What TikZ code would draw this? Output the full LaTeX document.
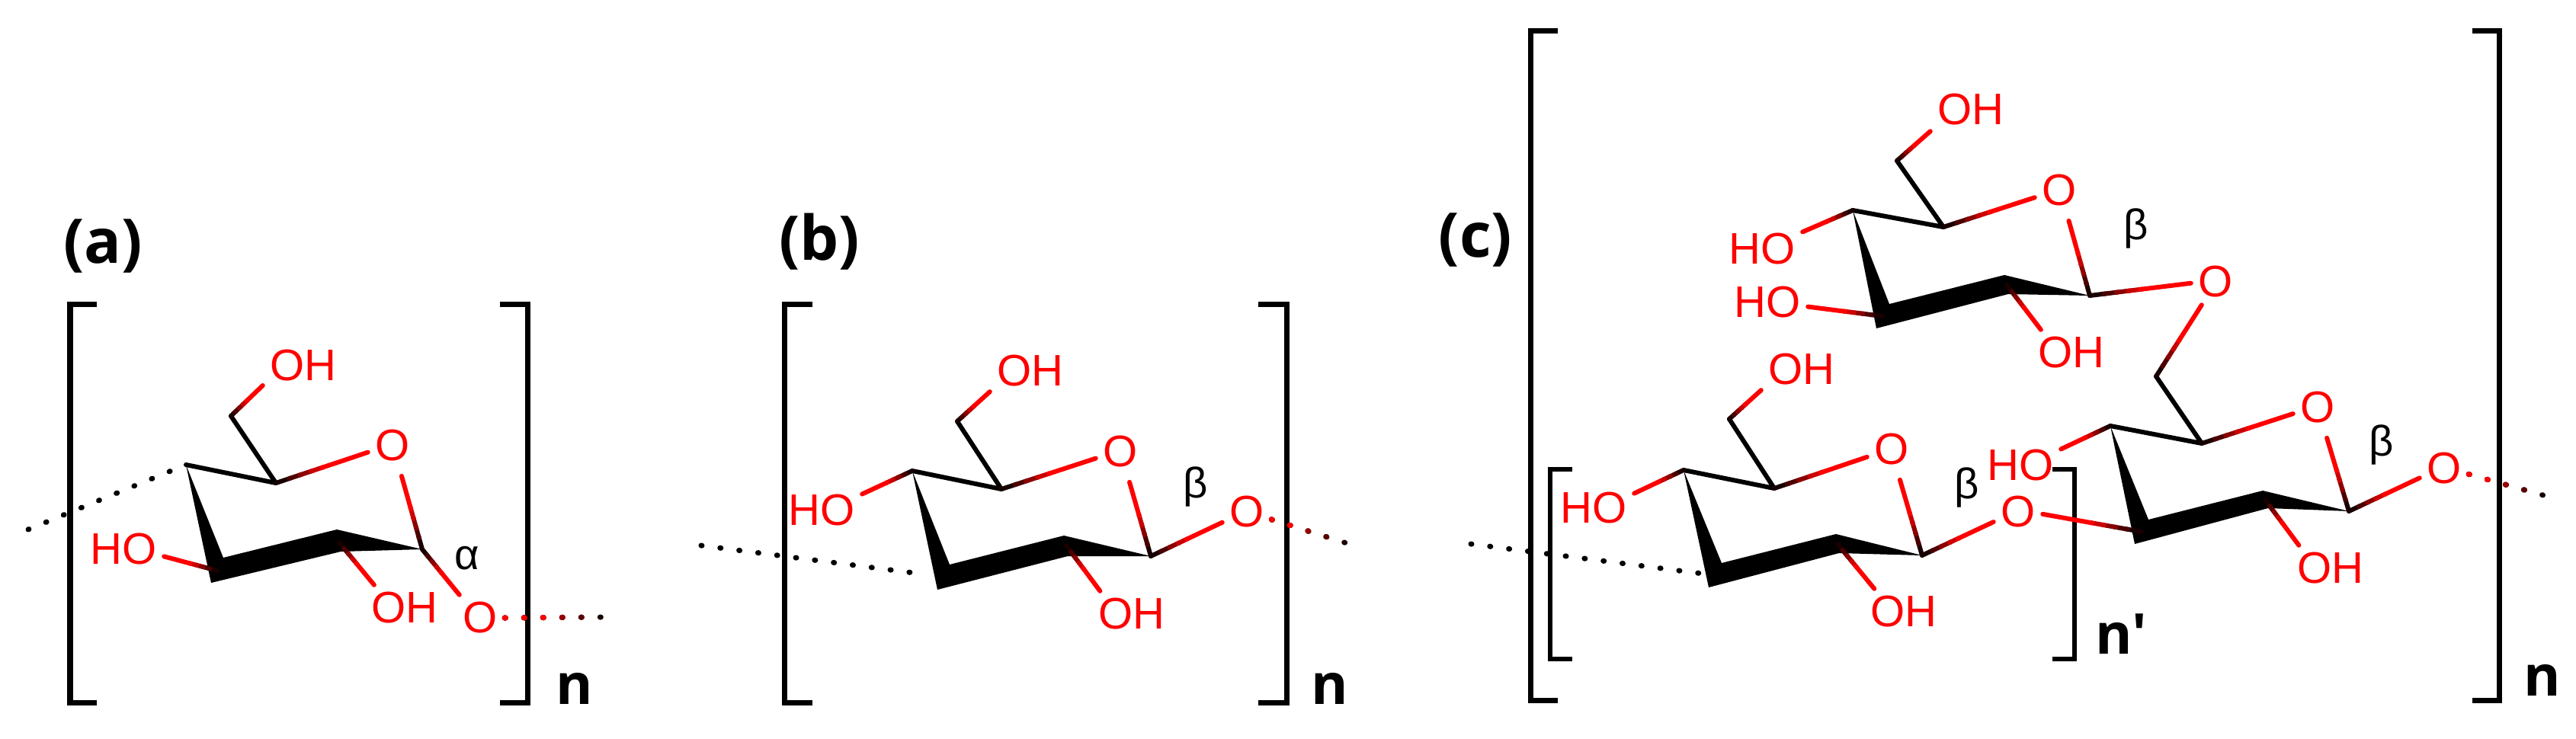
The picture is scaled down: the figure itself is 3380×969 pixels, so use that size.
\documentclass[tikz,border=0pt]{standalone}
\usepackage{fontspec}
\usepackage{tikz}
\usetikzlibrary{calc}
\setmainfont{Liberation Sans}
\newfontfamily\panelfont{Open Sans}

% bond that goes from black at the carbon to red at the oxygen
\newcommand{\hbond}[3][0pt]{%
	\foreach \p/\q/\tone in {0/.16/10,.14/.28/30,.26/.4/55,.38/.52/80}{
		\draw[bond,red!\tone!black] ($(#2)!\p!(#3)$) -- ($(#2)!\q!(#3)$);
	}
	\draw[bond,red,shorten >=#1] ($(#2)!.5!(#3)$) -- (#3);
}
% dots that start red and end black
\newcommand{\reddots}[2]{%
	\foreach \f/\tone in {1/10,.8/35,.6/60,.42/100}{
		\draw[dots,red!\tone!black] (#1) -- ($(#1)!\f!(#2)$);
	}
}
% wedge of the ring and the two plain bonds at the top
\newcommand{\ringbody}[1]{%
	\fill (#1C4) -- (#1C3t) -- (#1C2t) -- (#1C1) -- (#1C2b) -- (#1C3b) -- cycle;
	\draw[bond] (#1C4) -- (#1C5) -- (#1C6);
}

\begin{document}
\begin{tikzpicture}[x=.01cm,y=-.01cm,
		bond/.style={line width=.06cm,line cap=round,line join=round},
		dots/.style={line width=.07cm,line cap=round,dash pattern=on .01cm off .24cm},
		bracket/.style={line width=.07cm}]
	\useasboundingbox (0,0) rectangle (3380,969);

	\begin{scope}
		\draw[bracket] (127,399) -- (92,399) -- (92,922) -- (127,922);
		\draw[bracket] (656,399) -- (692,399) -- (692,922) -- (656,922);
		\draw[bracket] (1066,399) -- (1029,399) -- (1029,922) -- (1066,922);
		\draw[bracket] (1651,399) -- (1688,399) -- (1688,922) -- (1651,922);
		\draw[bracket] (2044,40) -- (2008,40) -- (2008,919) -- (2044,919);
		\draw[bracket] (3244,40) -- (3279,40) -- (3279,919) -- (3244,919);
		\draw[bracket,line width=.055cm] (2063,616) -- (2034,616) -- (2034,865) -- (2063,865);
		\draw[bracket,line width=.055cm] (2693,616) -- (2722,616) -- (2722,865) -- (2693,865);
	\end{scope}

	\begin{scope}[every node/.style={font=\panelfont\bfseries\fontsize{23}{26}\selectfont}]
		\node (la) at (135,323) {(a)};
		\node (lb) at (1075,317) {(b)};
		\node (lc) at (1936,315) {(c)};
	\end{scope}
	\begin{scope}[every node/.style={font=\panelfont\bfseries\fontsize{21}{24}\selectfont}]
		\node (na) at (754,904) {n};
		\node (nb) at (1745,904) {n};
		\node (nc) at (3336,893) {n};
		\node (nd) at (2783,832) {n'};
	\end{scope}

	\begin{scope}[every node/.style={font=\fontsize{16}{18}\selectfont}]
		\node (aalpha) at (613,733) {α};
		\node (bbeta) at (1569,639) {β};
		\node (cbeta) at (2803,300) {β};
		\node (dbeta) at (3125,584) {β};
		\node (ebeta) at (2581,640) {β};
	\end{scope}

	\begin{scope}[every node/.style={text=red,inner sep=.09cm,font=\fontsize{16.5}{18}\selectfont}]
		\node (aOH) at (398,480) {OH};
		\node (aO) at (515,585) {O};
		\node (aOn) at (630,811) {O};
		\node (aOHb) at (531,798) {OH};
		\node (aHO) at (162,721) {HO};

		\node (bOH) at (1352,487) {OH};
		\node (bO) at (1470,593) {O};
		\node (bOn) at (1636,672) {O};
		\node (bOHb) at (1485,806) {OH};
		\node (bHO) at (1078,670) {HO};

		\node (cOH) at (2586,144) {OH};
		\node (cO) at (2702,250) {O};
		\node (cOHb) at (2718,463) {OH};
		\node (cHO) at (2312,327) {HO};
		\node (cHOb) at (2319,397) {HO};

		\node (dOc) at (2907,370) {O};
		\node (dO) at (3041,535) {O};
		\node (dOn) at (3207,615) {O};
		\node (dOHb) at (3058,746) {OH};
		\node (dHO) at (2651,611) {HO};
		\node (dOe) at (2648,672) {O};

		\node (eOH) at (2364,485) {OH};
		\node (eO) at (2482,590) {O};
		\node (eOHb) at (2498,803) {OH};
		\node (eHO) at (2091,667) {HO};
	\end{scope}

	% ring a
	\coordinate (aC1) at (554,721);
	\coordinate (aC2) at (445,712);
	\coordinate (aC2t) at (442,695);
	\coordinate (aC2b) at (447,724);
	\coordinate (aC3) at (285,749);
	\coordinate (aC3t) at (293,732);
	\coordinate (aC3b) at (277,765);
	\coordinate (aC4) at (244,610);
	\coordinate (aC5) at (362,634);
	\coordinate (aC6) at (303,546);
	\coordinate (aEl) at (37,695);
	\coordinate (aEr) at (792,810);
	\ringbody{a}
	\hbond{aC6}{aOH.206}
	\hbond{aC5}{aO.195}
	\hbond[.1cm]{aC1}{aO.-73}
	\hbond{aC1}{aOn.132}
	\hbond{aC2}{aOHb.143}
	\hbond{aC3}{aHO.-10}
	\draw[dots,shorten >=.22cm] (aEl) -- (aC4);
	\reddots{aOn.east}{aEr}

	% ring b
	\coordinate (bC1) at (1510,730);
	\coordinate (bC2) at (1399,716);
	\coordinate (bC2t) at (1396,703);
	\coordinate (bC2b) at (1401,730);
	\coordinate (bC3) at (1238,757);
	\coordinate (bC3t) at (1246,741);
	\coordinate (bC3b) at (1230,774);
	\coordinate (bC4) at (1197,618);
	\coordinate (bC5) at (1314,642);
	\coordinate (bC6) at (1256,553);
	\coordinate (bEl) at (920,716);
	\coordinate (bEr) at (1767,713);
	\ringbody{b}
	\draw[dots,shorten >=.25cm] (bEl) -- (bC3);
	\hbond{bC6}{bOH.207}
	\hbond{bC5}{bO.195}
	\hbond[.1cm]{bC1}{bO.-73}
	\hbond{bC1}{bOn.203}
	\hbond{bC2}{bOHb.144}
	\hbond{bC4}{bHO.22}
	\reddots{bOn.-17}{bEr}

	% ring c, on top
	\coordinate (cC1) at (2742,388);
	\coordinate (cC2) at (2633,374);
	\coordinate (cC2t) at (2630,361);
	\coordinate (cC2b) at (2635,386);
	\coordinate (cC3) at (2470,415);
	\coordinate (cC3t) at (2479,399);
	\coordinate (cC3b) at (2462,431);
	\coordinate (cC4) at (2431,276);
	\coordinate (cC5) at (2550,298);
	\coordinate (cC6) at (2489,211);
	\ringbody{c}
	\hbond{cC6}{cOH.208}
	\hbond{cC5}{cO.196}
	\hbond[.1cm]{cC1}{cO.-72}
	\hbond{cC1}{dOc.183}
	\hbond{cC2}{cOHb.143}
	\hbond{cC4}{cHO.23}
	\hbond{cC3}{cHOb.-6}

	% ring d, on the right
	\coordinate (dC1) at (3082,671);
	\coordinate (dC2) at (2972,656);
	\coordinate (dC2t) at (2969,644);
	\coordinate (dC2b) at (2976,667);
	\coordinate (dC3) at (2810,698);
	\coordinate (dC3t) at (2819,682);
	\coordinate (dC3b) at (2801,714);
	\coordinate (dC4) at (2769,559);
	\coordinate (dC5) at (2889,582);
	\coordinate (dC6) at (2829,494);
	\coordinate (dEr) at (3344,652);
	\ringbody{d}
	\hbond{dC6}{dOc.239}
	\hbond{dC5}{dO.194}
	\hbond[.1cm]{dC1}{dO.-73}
	\hbond{dC1}{dOn.201}
	\hbond{dC2}{dOHb.144}
	\hbond{dC4}{dHO.22}
	\hbond{dC3}{dOe.-5}
	\reddots{dOn.-13}{dEr}

	% ring e, on the left
	\coordinate (eC1) at (2522,729);
	\coordinate (eC2) at (2411,714);
	\coordinate (eC2t) at (2409,701);
	\coordinate (eC2b) at (2413,726);
	\coordinate (eC3) at (2250,755);
	\coordinate (eC3t) at (2259,739);
	\coordinate (eC3b) at (2242,771);
	\coordinate (eC4) at (2209,617);
	\coordinate (eC5) at (2328,641);
	\coordinate (eC6) at (2269,550);
	\coordinate (eEl) at (1930,714);
	\ringbody{e}
	\draw[dots,shorten >=.2cm] (eEl) -- (eC3);
	\hbond{eC6}{eOH.207}
	\hbond{eC5}{eO.197}
	\hbond[.1cm]{eC1}{eO.-75}
	\hbond{eC1}{dOe.202}
	\hbond{eC2}{eOHb.142}
	\hbond{eC4}{eHO.20}
\end{tikzpicture}
\end{document}
